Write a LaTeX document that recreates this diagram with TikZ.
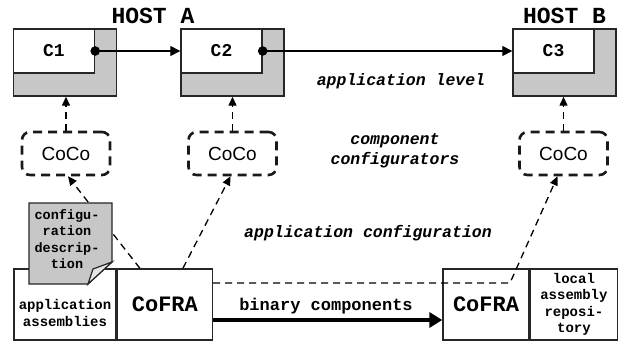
\documentclass[tikz,border=0pt]{standalone}
\usepackage{fontspec}
\newfontfamily\monofont{Liberation Mono}
\newfontfamily\cocofont{Liberation Sans}
\usetikzlibrary{arrows.meta,positioning}

\begin{document}
\begin{tikzpicture}[x=1pt, y=-1pt,
    comp/.style={draw=black!85, line width=1.4pt, fill=black!22, minimum width=103pt, minimum height=67pt},
    slot/.style={draw=black!85, line width=1.4pt, fill=white, minimum width=81pt, minimum height=44pt, anchor=north west, font=\monofont\bfseries\fontsize{18}{20}\selectfont},
    coco/.style={draw=black!90, line width=2.6pt, dash pattern=on 9pt off 6pt, rounded corners=8pt, minimum width=88pt, minimum height=43pt, font=\cocofont\fontsize{19}{22}\selectfont},
    fra/.style={draw=black!85, line width=1.4pt, fill=white, minimum height=71pt, align=center, font=\monofont\bfseries\fontsize{22}{24}\selectfont},
    small/.style={align=center, font=\monofont\bfseries\fontsize{14}{16.5}\selectfont},
    host/.style={font=\monofont\bfseries\fontsize{23}{25}\selectfont},
    note/.style={align=center, font=\monofont\bfseries\itshape\fontsize{16.5}{20}\selectfont},
    paper/.style={draw=black!85, line width=1.2pt, fill=black!22},
    flow/.style={line width=1.3pt, -{Triangle[length=10pt,width=10pt]}},
    cfg/.style={line width=1.3pt, dash pattern=on 7pt off 5pt, -{Triangle[length=9pt,width=8pt]}},
    bin/.style={line width=4.5pt, -{Triangle[length=13pt,width=15pt]}}
]
\useasboundingbox (0,0) rectangle (621,345);

% components on the two hosts
\node[comp] (c1) at (65,62.5) {};
\node[comp] (c2) at (232.5,62.5) {};
\node[comp] (c3) at (564.5,62.5) {};
\node[slot] (c1in) at (c1.north west) {C1};
\node[slot] (c2in) at (c2.north west) {C2};
\node[slot] (c3in) at (c3.north west) {C3};
\node[host] (hosta) at (153,16) {HOST A};
\node[host] (hostb) at (hosta -| c3) {HOST B};

\draw[flow] (c1in.east) -- (c2in.west);
\draw[flow] (c2in.east) -- (c3in.west);
\fill (c1in.east) circle (4.8pt);
\fill (c2in.east) circle (4.8pt);

% configurators
\node[coco] (coco1) at (66,153.5) {CoCo};
\node[coco] (coco2) at (232.5,153.5) {CoCo};
\node[coco] (coco3) at (563.5,153.5) {CoCo};
\draw[cfg] (coco1.north) -- (coco1.north |- c1.south);
\draw[cfg] (coco2.north) -- (coco2.north |- c2.south);
\draw[cfg] (coco3.north) -- (coco3.north |- c3.south);

% frameworks and repositories
\node[fra, minimum width=102pt] (asm) at (65,304.5) {};
\node[small] (asmtext) at (65,313) {application\\assemblies};
\node[fra, minimum width=95pt, right=0pt of asm] (cofra1) {CoFRA};
\node[fra, minimum width=86pt] (cofra2) at (486,304.5) {CoFRA};
\node[fra, minimum width=87pt, right=0pt of cofra2, font=\monofont\bfseries\fontsize{14}{16.5}\selectfont] (repo) {local\\assembly\\reposi-\\tory};

\coordinate (bend) at (510,283);
\draw[cfg] ([xshift=-25pt]cofra1.north) -- ([xshift=2pt]coco1.south);
\draw[cfg] ([xshift=18pt]cofra1.north) -- ([xshift=-2pt]coco2.south);
\draw[cfg] ([yshift=21.5pt]cofra1.east) -- (bend) -- ([xshift=-6pt]coco3.south);
\draw[bin] ([yshift=-15.5pt]cofra1.east) -- ([yshift=-15.5pt]cofra2.west);

% configuration description sheet
\filldraw[paper] (29,203) -- (112,203) -- (112,262) -- (88,284) -- (29,284) -- cycle;
\filldraw[paper, fill=black!10] (112,262) -- (93,269) -- (88,284) -- cycle;
\node[small, font=\monofont\bfseries\fontsize{13.5}{16.5}\selectfont] (doc) at (67,239) {configu-\\ration\\descrip-\\tion};

% level labels
\node[note, anchor=base] (applevel) at (401,85) {application level};
\node[note] (coconote) at (395,151) {component\\configurators};
\node[note, anchor=base] (appcfg) at (368,237) {application configuration};
\node[small, anchor=base, font=\monofont\bfseries\fontsize{17}{19}\selectfont] (binlabel) at (326,310) {binary components};
\end{tikzpicture}
\end{document}
